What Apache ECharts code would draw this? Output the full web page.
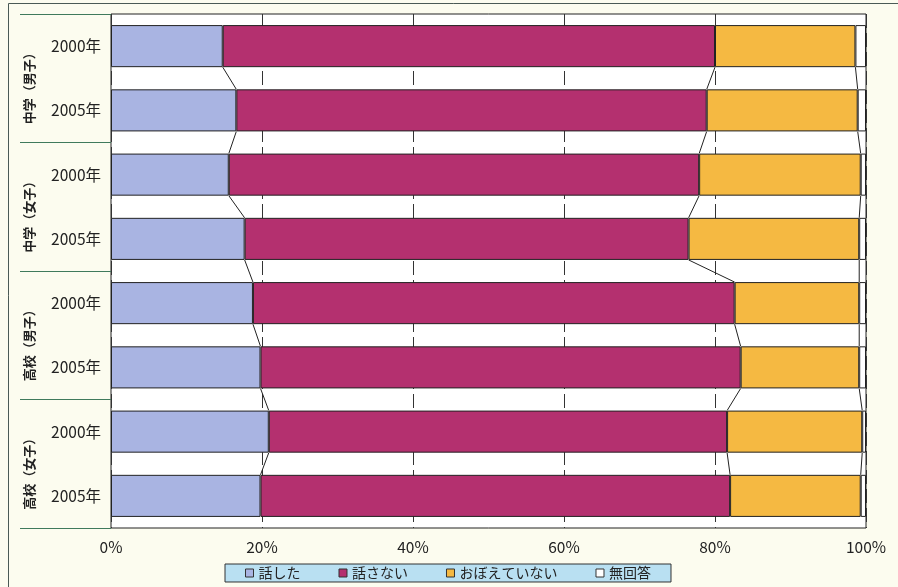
<!DOCTYPE html>
<html>
<head>
<meta charset="utf-8">
<script src="https://cdn.jsdelivr.net/npm/echarts@6/dist/echarts.min.js"></script>
<style>html,body{margin:0;padding:0;background:#fcfcef;}#c{width:898px;height:587px;}</style>
</head>
<body>
<div id="c"></div>
<script>
const groups = ['中学（男子）', '中学（女子）', '高校（男子）', '高校（女子）'];
const years = ['2000年', '2005年'];
const seriesNames = ['話した', '話さない', 'おぼえていない', '無回答'];
const talked = [14.8, 16.6, 15.6, 17.7, 18.8, 19.8, 20.9, 19.8];
const notTalked = [65.2, 62.3, 62.3, 58.8, 63.8, 63.6, 60.7, 62.2];
const notRemember = [18.6, 20.0, 21.4, 22.6, 16.5, 15.7, 17.9, 17.3];
const noAnswer = [1.4, 1.1, 0.7, 0.9, 0.9, 0.9, 0.5, 0.7];
const xTicks = [0, 20, 40, 60, 80, 100];
const colors = ['#a9b4e2', '#b4306f', '#f5b942', '#ffffff'];

const rowKeys = [];
groups.forEach(g => years.forEach(y => rowKeys.push(g + '|' + y)));
const values = [talked, notTalked, notRemember, noAnswer];

// cumulative boundaries for connector lines
const cum = rowKeys.map((_, i) => {
  const c1 = talked[i];
  const c2 = c1 + notTalked[i];
  const c3 = c2 + notRemember[i];
  return [c1, c2, c3];
});
const connectorData = [];
for (let i = 0; i < rowKeys.length - 1; i++) {
  connectorData.push([i].concat(cum[i], cum[i + 1]));
}

const BAR_RATIO = 0.655;
const font = '"Noto Sans CJK JP", "Noto Sans", sans-serif';

const chart = echarts.init(document.getElementById('c'), null, {renderer: 'canvas'});
const option = {
  backgroundColor: '#fcfcef',
  animation: false,
  textStyle: {fontFamily: font},
  graphic: [
    {type: 'rect', shape: {x: 8.5, y: 3.5, width: 920, height: 620}, style: {fill: 'none', stroke: '#4a5a55', lineWidth: 1}, silent: true, z: -1}
  ],
  legend: {
    data: seriesNames,
    left: 225, top: 564,
    itemWidth: 8, itemHeight: 8, itemGap: 38,
    padding: [2, 20, 2, 20],
    backgroundColor: '#b9e0f2',
    borderColor: '#333', borderWidth: 1,
    icon: 'rect',
    itemStyle: {borderColor: '#333', borderWidth: 1},
    textStyle: {fontSize: 14, color: '#222', fontFamily: font}
  },
  grid: {
    left: 111, right: 32, top: 14, bottom: 59,
    show: true, backgroundColor: '#ffffff', borderColor: '#222', borderWidth: 1
  },
  xAxis: {
    type: 'value', min: 0, max: 100, interval: 20,
    axisLine: {show: false}, axisTick: {show: false},
    splitLine: {show: true, lineStyle: {color: '#333', width: 1, type: [14, 5]}},
    axisLabel: {formatter: v => xTicks.includes(v) ? v + '%' : '', fontSize: 15.5, color: '#222', margin: 11, fontFamily: font}
  },
  yAxis: [
    {
      type: 'category', data: rowKeys, inverse: true,
      axisLine: {show: false}, axisTick: {show: false},
      axisLabel: {formatter: v => v.split('|')[1], fontSize: 15.5, color: '#222', margin: 10, fontFamily: font}
    },
    {
      type: 'category', data: groups, inverse: true, position: 'left',
      axisLine: {show: false},
      axisTick: {show: true, length: 91, lineStyle: {color: '#3f7a5c', width: 1}},
      axisLabel: {rotate: 90, fontSize: 13, color: '#222', margin: 82, fontWeight: 'bold', fontFamily: font,
        align: 'center', verticalAlign: 'middle', padding: [0, 14, 0, 0]}
    }
  ],
  series: seriesNames.map((name, k) => ({
    name: name, type: 'bar', stack: 'total', yAxisIndex: 0,
    barWidth: (BAR_RATIO * 100) + '%',
    data: values[k],
    itemStyle: {color: colors[k], borderColor: '#222', borderWidth: 1}
  })).concat([{
    type: 'custom', yAxisIndex: 0, silent: true, z: 5,
    data: connectorData,
    encode: {y: 0, x: [1, 2, 3, 4, 5, 6]},
    renderItem: function (params, api) {
      const i = api.value(0);
      const band = api.size([0, 1])[1];
      const h = band * BAR_RATIO / 2;
      const children = [];
      for (let k = 0; k < 3; k++) {
        const pa = api.coord([api.value(1 + k), i]);
        const pb = api.coord([api.value(4 + k), i + 1]);
        children.push({type: 'line', shape: {x1: pa[0], y1: pa[1] + h, x2: pb[0], y2: pb[1] - h},
          style: {stroke: '#222', lineWidth: 1}});
      }
      return {type: 'group', children: children};
    }
  }])
};
chart.setOption(option);
</script>
</body>
</html>
